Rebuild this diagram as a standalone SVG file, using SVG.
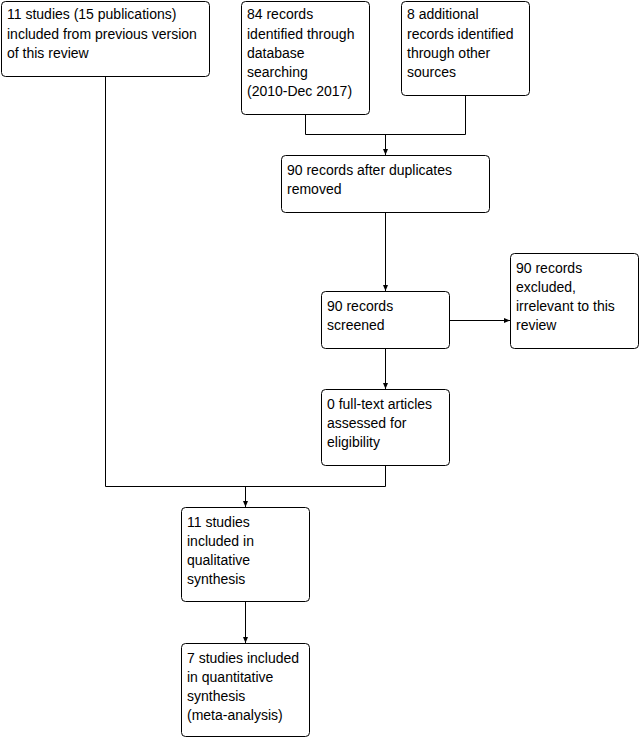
<svg xmlns="http://www.w3.org/2000/svg" width="641" height="738" viewBox="0 0 641 738">
<defs>
<style>
.box{fill:#fff;stroke:#000;stroke-width:1}
.t{font-family:"Liberation Sans",Arial,sans-serif;font-size:14px;fill:#000}
.c{fill:none;stroke:#000;stroke-width:1}
</style>
<marker id="ah" viewBox="0 0 6 6" refX="6" refY="3" markerWidth="6" markerHeight="6" markerUnits="userSpaceOnUse" orient="auto">
<path d="M0,0.5 L6,3 L0,5.5 Z" fill="#000"/>
</marker>
</defs>
<rect width="641" height="738" fill="#fff"/>
<g id="connectors">
<path class="c" d="M105.5,76 V486.5 H385.5 V465"/>
<path class="c" d="M305.5,115 V134.5 H465.5 V95"/>
<path class="c" d="M385.5,134.5 V155" marker-end="url(#ah)"/>
<path class="c" d="M385.5,212 V291" marker-end="url(#ah)"/>
<path class="c" d="M450,320.5 H510" marker-end="url(#ah)"/>
<path class="c" d="M385.5,348 V389" marker-end="url(#ah)"/>
<path class="c" d="M245.5,486.5 V507" marker-end="url(#ah)"/>
<path class="c" d="M245.5,601 V643" marker-end="url(#ah)"/>
</g>
<g id="n1">
<rect class="box" x="1.5" y="1.5" width="208" height="75" rx="4"/>
<text class="t" x="7" y="19">11 studies (15 publications)</text>
<text class="t" x="7" y="39">included from previous version</text>
<text class="t" x="7" y="58">of this review</text>
</g>
<g id="n2">
<rect class="box" x="241.5" y="1.5" width="128" height="113" rx="4"/>
<text class="t" x="247" y="19">84 records</text>
<text class="t" x="247" y="39">identified through</text>
<text class="t" x="247" y="58">database</text>
<text class="t" x="247" y="77">searching</text>
<text class="t" x="247" y="96">(2010-Dec 2017)</text>
</g>
<g id="n3">
<rect class="box" x="401.5" y="1.5" width="128" height="94" rx="4"/>
<text class="t" x="407" y="19">8 additional</text>
<text class="t" x="407" y="39">records identified</text>
<text class="t" x="407" y="58">through other</text>
<text class="t" x="407" y="77">sources</text>
</g>
<g id="n4">
<rect class="box" x="281.5" y="155.5" width="208" height="57" rx="4"/>
<text class="t" x="287" y="175">90 records after duplicates</text>
<text class="t" x="287" y="194">removed</text>
</g>
<g id="n5">
<rect class="box" x="321.5" y="291.5" width="128" height="57" rx="4"/>
<text class="t" x="327" y="311">90 records</text>
<text class="t" x="327" y="330">screened</text>
</g>
<g id="n6">
<rect class="box" x="510.5" y="253.5" width="128" height="95" rx="4"/>
<text class="t" x="516" y="273">90 records</text>
<text class="t" x="516" y="292">excluded,</text>
<text class="t" x="516" y="311">irrelevant to this</text>
<text class="t" x="516" y="330">review</text>
</g>
<g id="n7">
<rect class="box" x="321.5" y="389.5" width="128" height="76" rx="4"/>
<text class="t" x="327" y="409">0 full-text articles</text>
<text class="t" x="327" y="428">assessed for</text>
<text class="t" x="327" y="447">eligibility</text>
</g>
<g id="n8">
<rect class="box" x="181.5" y="507.5" width="128" height="94" rx="4"/>
<text class="t" x="187" y="527">11 studies</text>
<text class="t" x="187" y="546">included in</text>
<text class="t" x="187" y="565">qualitative</text>
<text class="t" x="187" y="584">synthesis</text>
</g>
<g id="n9">
<rect class="box" x="181.5" y="643.5" width="128" height="93" rx="4"/>
<text class="t" x="187" y="663">7 studies included</text>
<text class="t" x="187" y="682">in quantitative</text>
<text class="t" x="187" y="701">synthesis</text>
<text class="t" x="187" y="720">(meta-analysis)</text>
</g>
</svg>
